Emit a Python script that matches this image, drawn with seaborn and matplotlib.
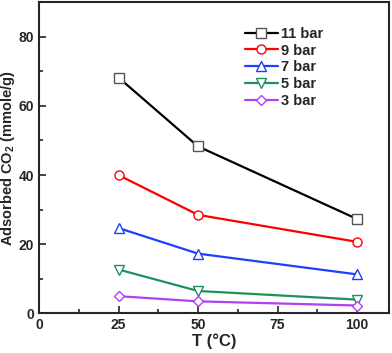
import matplotlib
matplotlib.use("Agg")
import matplotlib.pyplot as plt
from matplotlib.lines import Line2D
from matplotlib.ticker import MultipleLocator
import pandas as pd
import seaborn as sns

# data
temps = [25, 50, 100]
labels = ["11 bar", "9 bar", "7 bar", "5 bar", "3 bar"]
p11 = [68.2, 48.3, 27.3]
p9 = [40.0, 28.5, 20.7]
p7 = [24.7, 17.3, 11.3]
p5 = [12.7, 6.5, 4.0]
p3 = [5.0, 3.5, 2.3]

colors = ["#000000", "#ff0000", "#1f3fff", "#1e9060", "#b040f0"]
markers = ["s", "o", "^", "v", "D"]

sns.set_style("ticks")
plt.rcParams["font.family"] = ["Liberation Sans", "DejaVu Sans"]
plt.rcParams["font.weight"] = "bold"
plt.rcParams["mathtext.fontset"] = "custom"
plt.rcParams["mathtext.rm"] = "Liberation Sans:bold"
plt.rcParams["mathtext.bf"] = "Liberation Sans:bold"

df = pd.DataFrame({
    "T": temps * 5,
    "q": p11 + p9 + p7 + p5 + p3,
    "series": [l for l in labels for _ in temps],
})

fig = plt.figure(figsize=(3.92, 3.53), dpi=100)
ax = fig.add_axes([0.0995, 0.112, 0.8925, 0.882])

for lab, col in zip(labels, colors):
    sub = df[df["series"] == lab]
    sns.lineplot(data=sub, x="T", y="q", color=col, lw=1.6, ax=ax,
                 legend=False)

handles = []
for line, col, mk, lab in zip(ax.lines, colors, markers, labels):
    edge = col if col != "#000000" else "#555555"
    line.set_marker(mk)
    line.set_markersize(6.5 if mk != "D" else 5.5)
    line.set_markerfacecolor("white")
    line.set_markeredgecolor(edge)
    line.set_markeredgewidth(1.0)
    handles.append(Line2D([], [], color=col, lw=1.6, marker=mk,
                          markersize=6.5 if mk != "D" else 5.5,
                          markerfacecolor="white", markeredgecolor=edge,
                          markeredgewidth=1.0, label=lab))

ax.set_xlim(0, 110)
ax.set_ylim(0, 90)
ax.xaxis.set_major_locator(MultipleLocator(25))
ax.xaxis.set_minor_locator(MultipleLocator(12.5))
ax.yaxis.set_major_locator(MultipleLocator(20))
ax.yaxis.set_minor_locator(MultipleLocator(10))
ax.tick_params(which="both", direction="in", labelsize=10, width=1.2)
ax.tick_params(which="major", length=5)
ax.tick_params(which="minor", length=3)
for s in ax.spines.values():
    s.set_linewidth(1.5)

ax.set_xlabel("T (°C)", fontsize=12, fontweight="bold", labelpad=1)
ax.set_ylabel(r"Adsorbed CO$_{\mathbf{2}}$ (mmole/g)", fontsize=10.5,
              fontweight="bold", labelpad=1)

ax.legend(handles=handles, loc="upper left", bbox_to_anchor=(0.571, 0.94),
          frameon=False, fontsize=10.5, handlelength=2.3, handletextpad=0.2,
          labelspacing=0.2, borderaxespad=0)

fig.savefig("out.png", dpi=100)
